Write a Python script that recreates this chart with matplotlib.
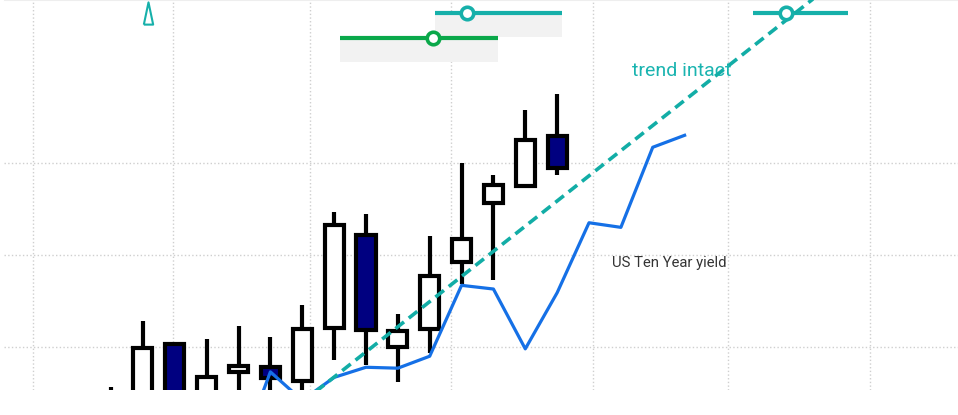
import numpy as np
import matplotlib
matplotlib.use('Agg')
import matplotlib.pyplot as plt
from matplotlib.patches import Rectangle

plt.rcParams['font.family'] = ['Roboto', 'DejaVu Sans']

# weekly candles (index, open, high, low, close)
idx = [0, 1, 2, 3, 4, 5, 6, 7, 8, 9, 10, 11, 12, 13, 14]
opn = [0.95, 0.90, 1.53, 0.95, 1.23, 1.28, 1.13, 1.71, 2.72, 1.50, 1.70, 2.42, 3.07, 3.25, 3.79]
high = [1.065, 1.78, 1.53, 1.59, 1.73, 1.61, 1.96, 2.97, 2.95, 1.86, 2.71, 3.50, 3.37, 4.08, 4.25]
low = [0.90, 0.85, 0.90, 0.90, 0.95, 0.95, 0.95, 1.36, 1.30, 1.12, 1.43, 2.18, 2.23, 3.25, 3.37]
close = [1.00, 1.49, 0.95, 1.17, 1.295, 1.16, 1.70, 2.83, 1.68, 1.67, 2.27, 2.67, 3.26, 3.75, 3.45]

# US ten year yield (rescaled)
yld_x = [4, 5, 6, 7, 8, 9, 10, 11, 12, 13, 14, 15, 16, 17, 18]
yld_y = [0.30, 1.23, 0.92, 1.17, 1.28, 1.27, 1.40, 2.17, 2.13, 1.48, 2.09, 2.85, 2.80, 3.67, 3.80]

# trend line
trend_x = [6, 24]
trend_y = [0.90, 5.82]

# range markers at the top: start, end, dot, level, band bottom
rng_start = [10.17, 7.19, 20.15]
rng_end = [14.16, 12.15, 23.13]
rng_dot = [11.17, 10.10, 21.19]
rng_lvl = [5.13, 4.86, 5.13]
rng_band = [4.87, 4.60, None]
rng_col = ['#16b0aa', '#0aa84a', '#16b0aa']

grid_x = [-2.45, 1.95, 6.25, 10.67, 15.13, 19.37, 23.82]
grid_y = [1.5, 2.5, 3.5]

fig = plt.figure(figsize=(9.58, 4.15), dpi=100)
ax = fig.add_axes([4 / 958, 25 / 415, 954 / 958, 390 / 415])
ax.set_xlim(-3.36, 26.58)
ax.set_ylim(1.033, 5.27)

for s in ['left', 'right', 'bottom']:
    ax.spines[s].set_visible(False)
ax.spines['top'].set_color('#eeeeee')
ax.set_xticks(grid_x)
ax.set_yticks(grid_y)
ax.tick_params(length=0, labelbottom=False, labelleft=False)
ax.grid(True, color='#cfcfcf', linestyle=':', linewidth=1)
ax.set_axisbelow(True)

# candles
w = 0.6
for i in range(len(idx)):
    ax.plot([idx[i], idx[i]], [low[i], high[i]], color='black', lw=3, zorder=2,
            solid_capstyle='butt')
    bot = min(opn[i], close[i])
    h = abs(close[i] - opn[i])
    fc = 'white' if close[i] >= opn[i] else '#000080'
    ax.add_patch(Rectangle((idx[i] - w / 2, bot), w, h, facecolor=fc,
                           edgecolor='black', lw=3, zorder=3))

# top range markers
for i in range(len(rng_start)):
    if rng_band[i] is not None:
        ax.add_patch(Rectangle((rng_start[i], rng_band[i]), rng_end[i] - rng_start[i],
                               rng_lvl[i] - rng_band[i], facecolor='#f2f2f2',
                               edgecolor='none', zorder=1))
    ax.plot([rng_start[i], rng_end[i]], [rng_lvl[i], rng_lvl[i]], color=rng_col[i],
            lw=3, solid_capstyle='butt', zorder=4)
    ax.plot(rng_dot[i], rng_lvl[i], marker='o', ms=9, mfc='white', mec=rng_col[i],
            mew=2.6, zorder=5)

# triangle
tri = [(-0.42, -1), (0, 1), (0.42, -1), (-0.42, -1)]
ax.plot(1.16, 5.13, marker=tri, ms=16, mfc='none', mec='#16b0aa', mew=1.5, zorder=5)

# yield line and trend
ax.plot(yld_x, yld_y, color='#1570e6', lw=2.3, zorder=4, clip_on=True)
ax.plot(trend_x, trend_y, color='#12ada6', lw=2.6, dashes=(3, 1.7), zorder=4)

ax.text(16.35, 4.50, 'trend intact', color='#1ab4b0', fontsize=14, va='center', ha='left')
ax.text(15.72, 2.41, 'US Ten Year yield', color='#333333', fontsize=10.7, va='center', ha='left')

fig.savefig('out.png', dpi=100)
